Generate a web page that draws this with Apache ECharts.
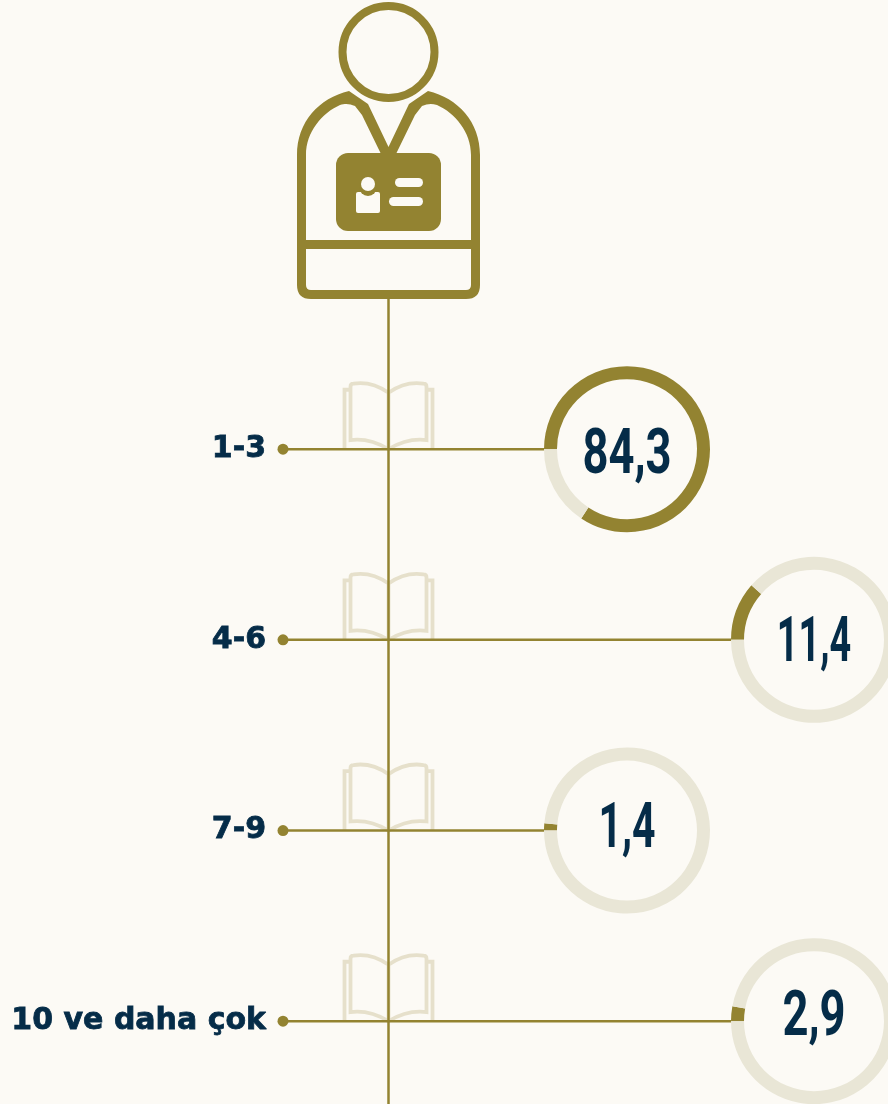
<!DOCTYPE html>
<html>
<head>
<meta charset="utf-8">
<style>
  html,body{margin:0;padding:0;background:#fcfaf5;}
  #main{width:888px;height:1104px;overflow:hidden;}
</style>
</head>
<body>
<div id="main"></div>
<script src="https://cdn.jsdelivr.net/npm/echarts@6/dist/echarts.min.js"></script>
<script>
var categories = ['1-3', '4-6', '7-9', '10 ve daha çok']
var values = [84.3, 11.4, 1.4, 2.9]

var gold = '#938331'
var pale = '#e9e6d6'
var bookColor = '#e6e0cb'
var navy = '#052c48'
var bg = '#fcfaf5'

// first row sits on the grid top, last row on the grid bottom
var gridTop = 449.2
var gridHeight = 572
var ringX = [627, 814, 627, 814]
var centerX = 388.5
// number placement inside each ring
var numberDy = [8, 5, 1, -2]
var numberScale = [0.72, 0.6, 0.65, 0.72]

function rowY(i) { return gridTop + gridHeight / (categories.length - 1) * i }

var bookPath = 'M-38 -62 Q-38 -65 -35 -65 C-22 -67 -10 -63 0 -56 C10 -63 22 -67 35 -65 Q38 -65 38 -62 L38 -9 C22 -11 10 -6 0 0 C-10 -6 -22 -11 -38 -9 Z' +
  'M-38 -59 L-44 -59 L-44 0 M38 -59 L44 -59 L44 0 M0 -56 L0 0'

var bodyPath = 'M349 91 L368 104 L388.5 147 L409 104 L428 91 C458 98 480 122 480 155 L480 285 Q480 299 466 299 L311 299 Q297 299 297 285 L297 155 C297 122 319 98 349 91 Z' +
  'M306 240 L471 240 L471 155 C471 132 455 113 437 105 C431 103 427 104 422 106 L415 115 L396 154 L381 154 L362 115 L355 106 C350 104 346 103 340 105 C322 113 306 132 306 155 Z' +
  'M306 249 L306 285 Q306 290 311 290 L466 290 Q471 290 471 285 L471 249 Z'

var pies = values.map(function (v, i) {
  return {
    type: 'pie',
    silent: true,
    center: [ringX[i], rowY(i)],
    radius: [70, 83],
    startAngle: 180,
    clockwise: true,
    z: 1,
    label: { show: false },
    labelLine: { show: false },
    data: [
      { name: categories[i], value: v, itemStyle: { color: gold } },
      { name: 'kalan', value: 100 - v, itemStyle: { color: pale } }
    ]
  }
})

function drawPerson() {
  return {
    type: 'group',
    children: [
      { type: 'circle', shape: { cx: centerX, cy: 52, r: 46 }, style: { fill: 'none', stroke: gold, lineWidth: 8 } },
      {
        type: 'path',
        shape: { pathData: bodyPath, layout: 'cover', x: 297, y: 91, width: 183, height: 208 },
        style: { fill: gold }
      },
      { type: 'rect', shape: { x: 336, y: 153, width: 105, height: 78, r: 12 }, style: { fill: gold } },
      { type: 'rect', shape: { x: 356, y: 192, width: 24, height: 21, r: 2 }, style: { fill: bg } },
      { type: 'circle', shape: { cx: 368, cy: 187, r: 9 }, style: { fill: gold } },
      { type: 'circle', shape: { cx: 368, cy: 184, r: 7 }, style: { fill: bg } },
      { type: 'rect', shape: { x: 395, y: 178, width: 28, height: 9, r: 4.5 }, style: { fill: bg } },
      { type: 'rect', shape: { x: 389, y: 197, width: 34, height: 9, r: 4.5 }, style: { fill: bg } }
    ]
  }
}

var chart = echarts.init(document.getElementById('main'), null, { renderer: 'canvas' })
chart.setOption({
  animation: false,
  backgroundColor: bg,
  grid: { left: 274, top: gridTop, width: 600, height: gridHeight },
  xAxis: { type: 'value', min: 0, max: 600, show: false },
  yAxis: {
    type: 'category',
    inverse: true,
    boundaryGap: false,
    data: categories,
    axisLine: { show: false },
    axisTick: { show: false },
    splitLine: { show: false },
    axisLabel: {
      margin: 8,
      padding: [5, 0, 0, 0],
      color: navy,
      fontFamily: 'DejaVu Sans',
      fontWeight: 'bold',
      fontSize: 30,
      textBorderColor: navy,
      textBorderWidth: 0.8
    }
  },
  graphic: [
    { type: 'line', z: 3, silent: true, shape: { x1: centerX, y1: 299, x2: centerX, y2: 1104 }, style: { stroke: gold, lineWidth: 2.5 } }
  ],
  series: pies.concat([{
    type: 'custom',
    coordinateSystem: 'none',
    silent: true,
    z: 2,
    data: [[0]],
    renderItem: drawPerson
  }, {
    type: 'custom',
    coordinateSystem: 'cartesian2d',
    clip: false,
    silent: true,
    z: 2,
    data: values.map(function (v, i) { return [0, i, v] }),
    encode: { x: 0, y: 1 },
    renderItem: function (params, api) {
      var i = api.value(1)
      var y = api.coord([0, i])[1]
      var left = ringX[i] - 83
      return {
        type: 'group',
        children: [
          {
            type: 'path',
            shape: { pathData: bookPath, layout: 'cover', x: centerX - 44, y: y - 66, width: 88, height: 66 },
            style: { fill: 'none', stroke: bookColor, lineWidth: 3.8 }
          },
          { type: 'line', shape: { x1: 283, y1: y, x2: left, y2: y }, style: { stroke: gold, lineWidth: 2.5 } },
          { type: 'circle', shape: { cx: 283, cy: y, r: 5.5 }, style: { fill: gold } },
          {
            type: 'text',
            x: ringX[i],
            y: y + numberDy[i],
            scaleX: numberScale[i],
            style: {
              text: String(api.value(2)).replace('.', ','),
              x: 0,
              y: 0,
              align: 'center',
              verticalAlign: 'middle',
              fill: navy,
              fontFamily: 'Roboto',
              fontWeight: 'bold',
              fontSize: 63
            }
          }
        ]
      }
    }
  }])
})
</script>
</body>
</html>
